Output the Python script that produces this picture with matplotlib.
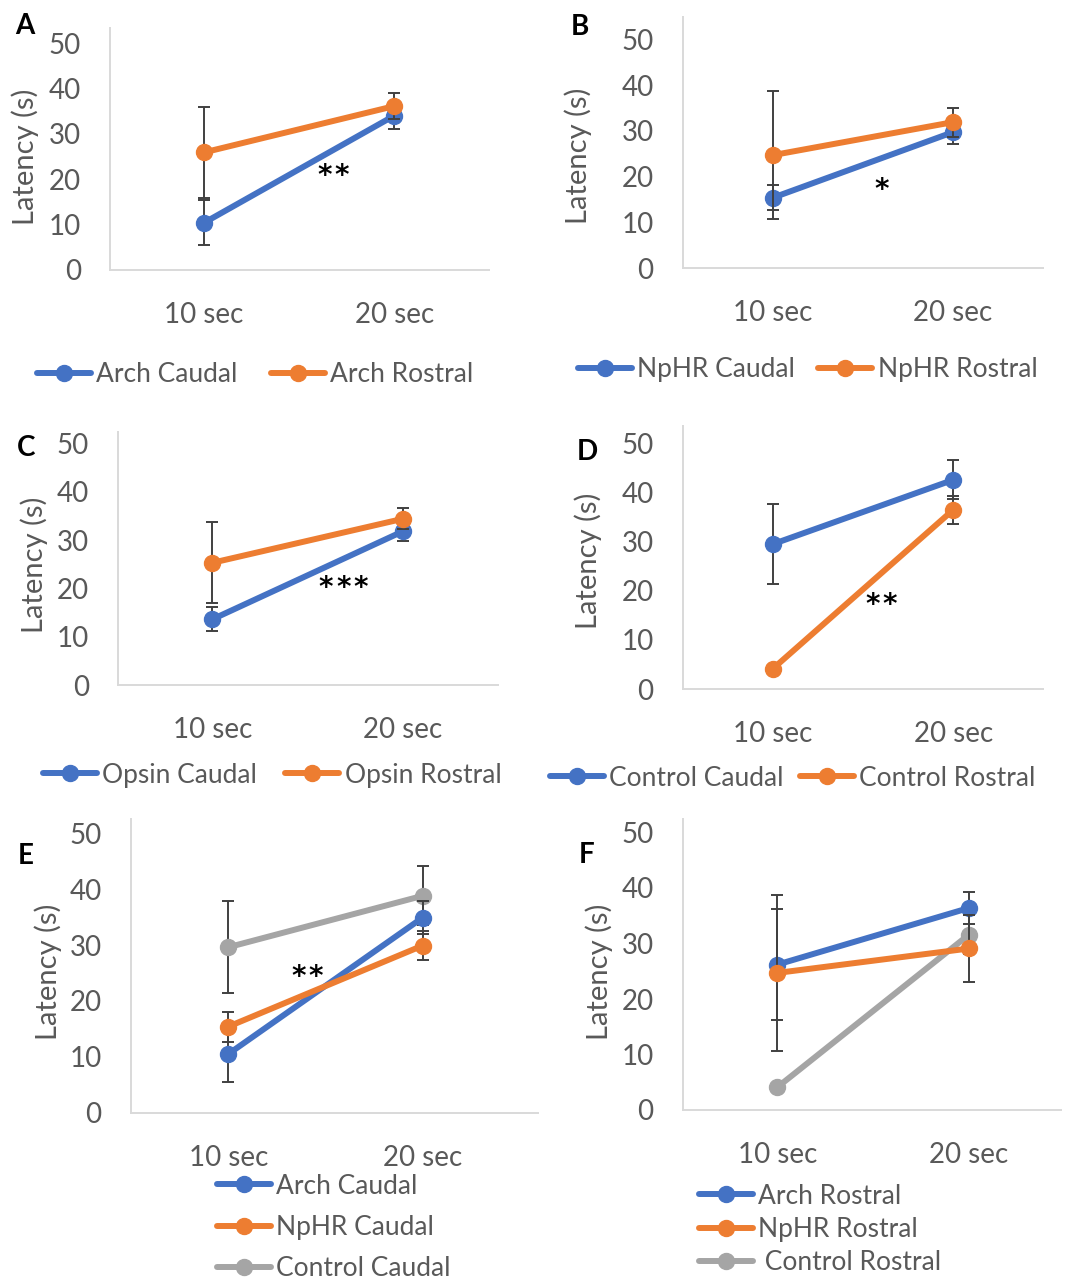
import matplotlib
matplotlib.use("Agg")
import matplotlib.pyplot as plt
from matplotlib.transforms import offset_copy

plt.rcParams["font.family"] = ["Lato", "DejaVu Sans"]

# ---- data -------------------------------------------------------------
categories = ["10 sec", "20 sec"]
yticks = [0, 10, 20, 30, 40, 50]

# Panel A
arch_caudal = [10.4, 34.0]
arch_caudal_err = [5.0, 3.0]
arch_rostral = [25.9, 36.1]
arch_rostral_err = [10.0, 2.9]

# Panel B
nphr_caudal = [15.4, 29.7]
nphr_caudal_err = [2.7, 2.6]
nphr_rostral = [24.7, 31.9]
nphr_rostral_err = [14.0, 3.2]

# Panel C
opsin_caudal = [13.6, 31.8]
opsin_caudal_err = [2.5, 1.9]
opsin_rostral = [25.3, 34.4]
opsin_rostral_err = [8.4, 2.2]

# Panel D
control_caudal = [29.5, 42.6]
control_caudal_err = [8.2, 4.0]
control_rostral = [4.1, 36.5]
control_rostral_err = [0.3, 2.9]

# Panel E (caudal comparison)
e_arch_caudal = [10.5, 34.9]
e_arch_caudal_err = [5.0, 3.0]
e_nphr_caudal = [15.4, 29.9]
e_nphr_caudal_err = [2.7, 2.6]
e_control_caudal = [29.6, 38.8]
e_control_caudal_err = [8.2, 5.3]

# Panel F (rostral comparison)
f_arch_rostral = [26.2, 36.4]
f_arch_rostral_err = [10.0, 2.9]
f_nphr_rostral = [24.7, 29.1]
f_nphr_rostral_err = [14.0, 6.0]
f_control_rostral = [4.1, 31.6]
f_control_rostral_err = [0.3, 3.5]

# ---- styling ----------------------------------------------------------
BLUE = "#4472C4"
ORANGE = "#ED7D31"
GRAY = "#A5A5A5"
TXT = "#595959"
SPINE = "#D9D9D9"
ERR = "#404040"
TICK_FS = 20
LEG_FS = 19
LAB_FS = 21

W, H = 1065, 1281
fig = plt.figure(figsize=(W / 100, H / 100), dpi=100)

# pixel layout of each panel: left, right, top, bottom, x of 1st/2nd category, px per unit
layout = {
    "A": dict(L=110, R=489, T=28, B=270, x0=204, x1=394.3, ppu=4.54),
    "B": dict(L=682.7, R=1043, T=17, B=268.3, x0=772.7, x1=952.7, ppu=4.58),
    "C": dict(L=118.3, R=497.7, T=432.3, B=685, x0=212.3, x1=402.7, ppu=4.83),
    "D": dict(L=682.7, R=1043, T=426, B=689, x0=772.7, x1=953.3, ppu=4.91),
    "E": dict(L=130.7, R=538, T=819, B=1112.7, x0=228.3, x1=422.7, ppu=5.59),
    "F": dict(L=682.7, R=1061, T=819, B=1110, x0=777.3, x1=969, ppu=5.55),
}


def make_axes(key):
    p = layout[key]
    ax = fig.add_axes([p["L"] / W, (H - p["B"]) / H, (p["R"] - p["L"]) / W, (p["B"] - p["T"]) / H])
    d = p["x1"] - p["x0"]
    ax.set_xlim((p["L"] - p["x0"]) / d, (p["R"] - p["x0"]) / d)
    ax.set_ylim(0, (p["B"] - p["T"]) / p["ppu"])
    ax.set_xticks(range(len(categories)))
    ax.set_xticklabels(categories)
    ax.set_yticks(yticks)
    ax.tick_params(axis="both", length=0, labelsize=TICK_FS, labelcolor=TXT)
    ax.tick_params(axis="y", pad=21)
    ax.tick_params(axis="x", pad=23)
    for s in ("top", "right"):
        ax.spines[s].set_visible(False)
    for s in ("left", "bottom"):
        ax.spines[s].set_color(SPINE)
        ax.spines[s].set_linewidth(1.4)
    ax.patch.set_alpha(0)
    return ax


def series(ax, vals, errs, color, label, z):
    xs = list(range(len(vals)))
    ax.errorbar(xs, vals, yerr=errs, fmt="none", ecolor=ERR, elinewidth=1.4,
                capsize=4.6, capthick=1.4, zorder=z)
    ax.plot(xs, vals, color=color, lw=4.3, marker="o", markersize=11.5,
            label=label, zorder=z + 0.5, solid_capstyle="round")


def legend(handles, labels, anchor_px, ncol, spacing=0.5, colsp=1.2):
    fig.legend(handles, labels, loc="center left",
               bbox_to_anchor=(anchor_px[0] / W, 1 - anchor_px[1] / H),
               ncol=ncol, frameon=False, fontsize=LEG_FS, labelcolor=TXT,
               handlelength=2.05, handletextpad=0.2, columnspacing=colsp,
               borderpad=0, borderaxespad=0, labelspacing=spacing)


def stars(ax, x, y, n):
    # significance asterisks, spaced evenly around (x, y)
    step = 12.5  # points
    for i in range(n):
        dx = (i - (n - 1) / 2) * step
        tr = offset_copy(ax.transData, fig=fig, x=dx, y=0, units="points")
        ax.text(x, y, "*", ha="center", va="center", fontsize=20, color="black",
                fontfamily="DejaVu Sans", fontweight="bold", zorder=10, transform=tr)


def ylabel(x, y):
    fig.text(x / W, 1 - y / H, "Latency (s)", rotation=90, ha="center", va="center",
             fontsize=LAB_FS, color=TXT)


def letter(x, y, t):
    fig.text(x / W, 1 - y / H, t, ha="center", va="center", fontsize=20,
             fontweight="bold", color="black")


# A
ax = make_axes("A")
series(ax, arch_caudal, arch_caudal_err, BLUE, "Arch Caudal", 2)
series(ax, arch_rostral, arch_rostral_err, ORANGE, "Arch Rostral", 3)
stars(ax, 0.68, 20.8, 2)
legend(*ax.get_legend_handles_labels(), (37, 375), 2, colsp=1.25)
ylabel(25, 157)
letter(25, 26, "A")

# B
ax = make_axes("B")
series(ax, nphr_caudal, nphr_caudal_err, BLUE, "NpHR Caudal", 2)
series(ax, nphr_rostral, nphr_rostral_err, ORANGE, "NpHR Rostral", 3)
stars(ax, 0.606, 17.2, 1)
legend(*ax.get_legend_handles_labels(), (578, 370), 2, colsp=0.87)
ylabel(578, 156)
letter(580, 27, "B")

# C
ax = make_axes("C")
series(ax, opsin_caudal, opsin_caudal_err, BLUE, "Opsin Caudal", 2)
series(ax, opsin_rostral, opsin_rostral_err, ORANGE, "Opsin Rostral", 3)
stars(ax, 0.689, 20.0, 3)
legend(*ax.get_legend_handles_labels(), (43, 775), 2, colsp=1.06)
ylabel(34, 565)
letter(26, 448, "C")

# D
ax = make_axes("D")
series(ax, control_caudal, control_caudal_err, BLUE, "Control Caudal", 2)
series(ax, control_rostral, control_rostral_err, ORANGE, "Control Rostral", 3)
stars(ax, 0.60, 17.2, 2)
legend(*ax.get_legend_handles_labels(), (550, 778), 2, colsp=0.6)
ylabel(588, 561)
letter(587, 452, "D")

# E
ax = make_axes("E")
series(ax, e_arch_caudal, e_arch_caudal_err, BLUE, "Arch Caudal", 2)
series(ax, e_nphr_caudal, e_nphr_caudal_err, ORANGE, "NpHR Caudal", 3)
series(ax, e_control_caudal, e_control_caudal_err, GRAY, "Control Caudal", 1)
h, l = ax.get_legend_handles_labels()
order = [l.index("Arch Caudal"), l.index("NpHR Caudal"), l.index("Control Caudal")]
legend([h[i] for i in order], [l[i] for i in order], (217, 1227.5), 1, spacing=0.62)
stars(ax, 0.407, 24.2, 2)
ylabel(48, 972)
letter(26, 856, "E")

# F
ax = make_axes("F")
series(ax, f_arch_rostral, f_arch_rostral_err, BLUE, "Arch Rostral", 2)
series(ax, f_nphr_rostral, f_nphr_rostral_err, ORANGE, "NpHR Rostral", 3)
series(ax, f_control_rostral, f_control_rostral_err, GRAY, " Control Rostral", 1)
h, l = ax.get_legend_handles_labels()
order = [l.index("Arch Rostral"), l.index("NpHR Rostral"), l.index(" Control Rostral")]
legend([h[i] for i in order], [l[i] for i in order], (699, 1229.3), 1, spacing=0.31)
ylabel(599, 972)
letter(587, 855, "F")

fig.savefig("out.png", dpi=100, facecolor="white")
